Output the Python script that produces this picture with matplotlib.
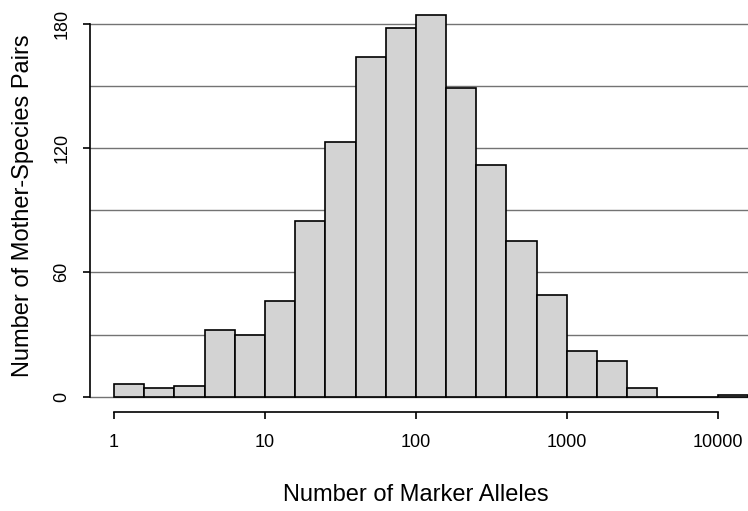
import numpy as np
import matplotlib.pyplot as plt

plt.rcParams['font.family'] = ['Liberation Sans', 'DejaVu Sans']

# histogram of log10(marker alleles), bins of 0.2 decades starting at 1
counts = [6, 4, 5, 32, 30, 46, 85, 123, 164, 178, 184,
          149, 112, 75, 49, 22, 17, 4, 0, 0, 1]
bin_start = 0.0
bin_width = 0.2
xticks = [0, 1, 2, 3, 4]
xticklabels = ['1', '10', '100', '1000', '10000']
yticks = [0, 60, 120, 180]
ygrid = [0, 30, 60, 90, 120, 150, 180]

edges = bin_start + bin_width*np.arange(len(counts))

fig = plt.figure(figsize=(7.48, 5.11), dpi=100)
ax = fig.add_axes([90/748, 99/511, 1 - 90/748, 412/511])

for g in ygrid:
    ax.axhline(g, color='0.45', lw=1.0, zorder=0)

ax.bar(edges, counts, width=bin_width, align='edge', color='#d3d3d3',
       edgecolor='black', linewidth=1.2, zorder=2)

ax.set_xlim(-0.159, 4.2)
ax.set_ylim(-7.36, 191.36)

for s in ['top', 'right']:
    ax.spines[s].set_visible(False)
ax.spines['left'].set_bounds(0, 180)
ax.spines['bottom'].set_bounds(0, 4)
ax.spines['left'].set_linewidth(1.2)
ax.spines['bottom'].set_linewidth(1.2)

ax.set_xticks(xticks)
ax.set_xticklabels(xticklabels)
ax.set_yticks(yticks)
ax.set_yticklabels([str(v) for v in yticks], rotation=90, va='center')
ax.tick_params(axis='both', direction='out', length=5, width=1.2,
               labelsize=13)
ax.tick_params(axis='x', pad=11)
ax.tick_params(axis='y', pad=9)

ax.set_xlabel('Number of Marker Alleles', fontsize=17, va='center')
ax.set_ylabel('Number of Mother-Species Pairs', fontsize=17, va='center')
ax.xaxis.set_label_coords((416 - 90)/658, (412 - 495)/412)
ax.yaxis.set_label_coords((23 - 90)/658, (412 - 206)/412)

fig.savefig('out.png', dpi=100)
